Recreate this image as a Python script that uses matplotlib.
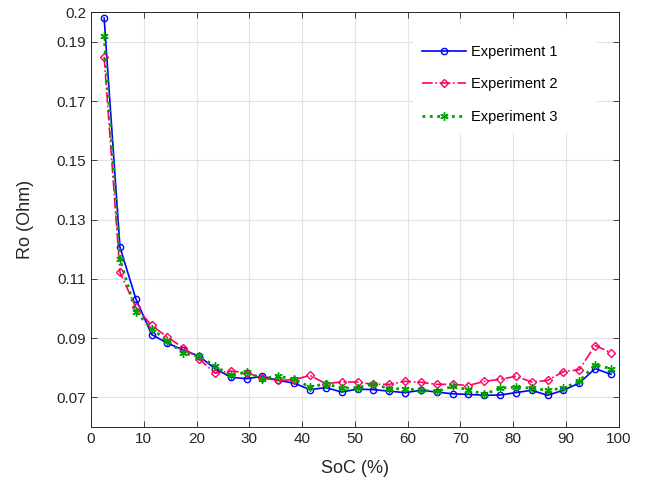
import numpy as np
import matplotlib.pyplot as plt
from matplotlib.patches import Rectangle

plt.rcParams['font.family'] = ['Liberation Sans', 'DejaVu Sans']

# SoC points (%)
soc = [2.5, 5.5, 8.5, 11.5, 14.5, 17.5, 20.5, 23.5, 26.5, 29.5, 32.5,
       35.5, 38.5, 41.5, 44.5, 47.5, 50.5, 53.5, 56.5, 59.5, 62.5, 65.5,
       68.5, 71.5, 74.5, 77.5, 80.5, 83.5, 86.5, 89.5, 92.5, 95.5, 98.5]

# Ro values (Ohm)
exp1 = [0.1980, 0.1207, 0.1033, 0.0912, 0.0883, 0.0860, 0.0839, 0.0797,
        0.0768, 0.0763, 0.0771, 0.0757, 0.0748, 0.0726, 0.0733, 0.0718,
        0.0728, 0.0726, 0.0721, 0.0716, 0.0724, 0.0718, 0.0712, 0.0710,
        0.0707, 0.0708, 0.0716, 0.0724, 0.0707, 0.0724, 0.0748, 0.0797,
        0.0778]
exp2 = [0.1849, 0.1122, 0.1004, 0.0943, 0.0903, 0.0867, 0.0830, 0.0782,
        0.0789, 0.0783, 0.0765, 0.0757, 0.0760, 0.0774, 0.0746, 0.0752,
        0.0752, 0.0744, 0.0744, 0.0754, 0.0751, 0.0744, 0.0744, 0.0740,
        0.0754, 0.0761, 0.0771, 0.0752, 0.0757, 0.0787, 0.0793, 0.0875,
        0.0851]
exp3 = [0.1920, 0.1167, 0.0988, 0.0932, 0.0890, 0.0849, 0.0838, 0.0806,
        0.0774, 0.0785, 0.0763, 0.0772, 0.0761, 0.0735, 0.0746, 0.0731,
        0.0732, 0.0746, 0.0729, 0.0729, 0.0724, 0.0720, 0.0737, 0.0726,
        0.0710, 0.0731, 0.0735, 0.0731, 0.0724, 0.0731, 0.0754, 0.0810,
        0.0797]

fig = plt.figure(figsize=(6.59, 4.88), dpi=100)
ax = fig.add_axes([0.138, 0.125, 0.801, 0.850])

ax.plot(soc, exp1, color='#0000ff', linestyle='-', linewidth=1.2,
        marker='o', markersize=4.5, markerfacecolor='none', label='Experiment 1')
ax.plot(soc, exp2, color='#ff0066', linestyle='-.', linewidth=1.2,
        marker='D', markersize=4, markerfacecolor='none', label='Experiment 2')
ax.plot(soc, exp3, color='#00a000', linestyle=':', linewidth=2.0,
        marker=(6, 2, 0), markersize=6, label='Experiment 3')

ax.set_xlim(0, 100)
ax.set_ylim(0.06, 0.2)
ax.set_xticks(np.arange(0, 101, 10))
ax.set_yticks([0.07, 0.09, 0.11, 0.13, 0.15, 0.17, 0.19, 0.2])
ax.set_yticklabels(['0.07', '0.09', '0.11', '0.13', '0.15', '0.17', '0.19', '0.2'])

ax.grid(True, color='#e3e3e3', linewidth=0.8)
ax.tick_params(direction='in', top=True, right=True, labelsize=11,
               colors='#262626', length=4, width=0.6)
for s in ax.spines.values():
    s.set_color('#262626')
    s.set_linewidth(0.7)

ax.set_xlabel('SoC (%)', fontsize=13, color='#262626', labelpad=10)
ax.set_ylabel('Ro (Ohm)', fontsize=13, color='#262626', labelpad=16)

# MATLAB-like legend: white box without edge, extra space on the right
ax.add_patch(Rectangle((0.610, 0.708), 0.348, 0.261, transform=ax.transAxes,
                       facecolor='white', edgecolor='none', zorder=4.5))
leg = ax.legend(loc='upper left', bbox_to_anchor=(0.602, 0.952), fontsize=10.5,
                frameon=False, borderpad=0.9, labelspacing=1.25, handlelength=3.0,
                handletextpad=0.35, borderaxespad=0)

fig.savefig('out.png', dpi=100)
